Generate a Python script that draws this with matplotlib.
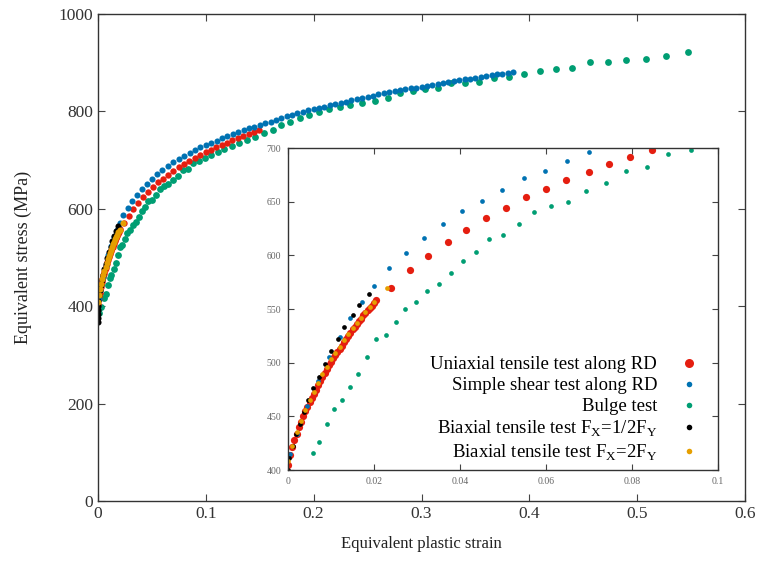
import numpy as np
import matplotlib
matplotlib.use('Agg')
import matplotlib.pyplot as plt

plt.rcParams['font.family'] = ['Liberation Serif', 'DejaVu Serif']
plt.rcParams['mathtext.fontset'] = 'custom'
plt.rcParams['mathtext.rm'] = 'Liberation Serif'

# uniaxial tensile test along RD
uni_strain = [0.0000, 0.0005, 0.0010, 0.0015, 0.0020, 0.0025, 0.0030, 0.0035, 0.0040, 0.0045,
              0.0050, 0.0055, 0.0060, 0.0065, 0.0070, 0.0075, 0.0080, 0.0085, 0.0090, 0.0095,
              0.0100, 0.0105, 0.0110, 0.0115, 0.0120, 0.0125, 0.0130, 0.0135, 0.0140, 0.0145,
              0.0150, 0.0155, 0.0160, 0.0165, 0.0170, 0.0175, 0.0180, 0.0185, 0.0190, 0.0195,
              0.0200, 0.0205,
              0.0240, 0.0283, 0.0326, 0.0371, 0.0415, 0.0460, 0.0506, 0.0553, 0.0599, 0.0647,
              0.0699, 0.0747, 0.0796, 0.0847, 0.0897, 0.0947, 0.0997, 0.1047, 0.1097, 0.1147,
              0.1197, 0.1247, 0.1297, 0.1347, 0.1397, 0.1447, 0.1497]
uni_stress = [405, 414, 421, 428, 434, 440, 445, 450, 455, 459,
              463, 467, 471, 475, 479, 483, 487, 490, 494, 498,
              501, 504, 507, 510, 513, 516, 519, 522, 525, 528,
              531, 533, 536, 539, 541, 544, 546, 549, 551, 553,
              556, 558,
              570, 586, 599, 612, 624, 635, 644, 654, 662, 670,
              678, 685, 692, 698, 705, 711, 716, 721, 726, 731,
              736, 741, 745, 750, 754, 758, 762]

# simple shear test along RD
shear_strain = [0.0005, 0.0020, 0.0045, 0.0070, 0.0095, 0.0120, 0.0145, 0.0172, 0.0201, 0.0235,
                0.0275, 0.0317, 0.0360, 0.0405, 0.0451, 0.0498, 0.0548, 0.0598, 0.0648, 0.0699,
                0.075, 0.080, 0.085, 0.090, 0.095, 0.100, 0.105, 0.110, 0.115, 0.120,
                0.125, 0.130, 0.135, 0.140, 0.145, 0.150, 0.155, 0.160, 0.165, 0.170,
                0.175, 0.180, 0.185, 0.190, 0.195, 0.200, 0.205, 0.210, 0.215, 0.220,
                0.225, 0.230, 0.235, 0.240, 0.245, 0.250, 0.255, 0.260, 0.265, 0.270,
                0.275, 0.280, 0.285, 0.290, 0.295, 0.300, 0.305, 0.310, 0.315, 0.320,
                0.325, 0.330, 0.335, 0.340, 0.345, 0.350, 0.355, 0.360, 0.365, 0.370,
                0.375, 0.380, 0.385]
shear_stress = [415, 434, 460, 483, 505, 524, 542, 557, 571, 588,
                602, 616, 629, 641, 651, 661, 672, 679, 688, 696,
                703, 709, 715, 721, 726, 731, 736, 740, 745, 749,
                753, 757, 761, 765, 768, 772, 776, 779, 783, 786,
                790, 793, 796, 799, 802, 805, 807, 810, 813, 815,
                818, 820, 823, 825, 828, 830, 832, 835, 837, 839,
                841, 843, 845, 847, 849, 851, 853, 855, 857, 859,
                861, 862, 864, 866, 867, 869, 871, 872, 874, 876,
                877, 879, 880]

# bulge test
bulge_strain = [0.0010, 0.0030, 0.0057, 0.0073, 0.0090, 0.0108, 0.0125, 0.0144, 0.0163, 0.0184,
                0.0205, 0.0227, 0.0250, 0.0273, 0.0297, 0.0323, 0.0350, 0.0378, 0.0406, 0.0437,
                0.0467, 0.0501, 0.0537, 0.0573, 0.0612, 0.0652, 0.0693, 0.0739, 0.0786, 0.0835,
                0.0884, 0.0937, 0.099, 0.105, 0.111, 0.117, 0.124, 0.131, 0.138, 0.146,
                0.154, 0.162, 0.170, 0.178, 0.187, 0.196, 0.205, 0.214, 0.224, 0.234,
                0.245, 0.257, 0.269, 0.280, 0.292, 0.303, 0.315, 0.327, 0.340, 0.353,
                0.367, 0.381, 0.395, 0.410, 0.425, 0.440, 0.456, 0.473, 0.490, 0.508,
                0.527, 0.547]
bulge_stress = [385, 398, 416, 426, 443, 457, 465, 477, 489, 505,
                522, 526, 538, 550, 557, 567, 573, 584, 595, 603,
                615, 619, 629, 640, 646, 650, 660, 667, 679, 682,
                694, 698, 704, 710, 716, 722, 728, 735, 741, 748,
                755, 762, 772, 779, 786, 792, 798, 804, 809, 814,
                818, 822, 827, 837, 842, 846, 849, 859, 858, 861,
                868, 871, 876, 883, 887, 889, 901, 901, 905, 908,
                914, 922]

# biaxial tensile test Fx = 1/2 Fy
bx_half_strain = [0.0, 0.0, 0.0, 0.0, 0.0, 0.0003, 0.0011, 0.0019, 0.0028, 0.0036,
                  0.0047, 0.0059, 0.0072, 0.0086, 0.0099, 0.0117, 0.0131, 0.0150, 0.0165, 0.0188]
bx_half_stress = [368, 376, 384, 392, 400, 411, 422, 434, 443, 454,
                  465, 476, 487, 499, 511, 522, 533, 544, 554, 564]

# biaxial tensile test Fx = 2 Fy
bx_two_strain = [0.000, 0.001, 0.002, 0.003, 0.004, 0.005, 0.006, 0.007, 0.008, 0.009,
                 0.010, 0.011, 0.012, 0.013, 0.014, 0.015, 0.016, 0.017, 0.018, 0.019,
                 0.020, 0.023]
bx_two_stress = [408, 422, 435, 446, 456, 465, 473, 481, 489, 496,
                 503, 509, 515, 521, 527, 532, 537, 542, 547, 552,
                 557, 570]

labels = ['Uniaxial tensile test along RD',
          'Simple shear test along RD',
          'Bulge test',
          r'Biaxial tensile test F$_\mathregular{X}$=1/2F$_\mathregular{Y}$',
          r'Biaxial tensile test F$_\mathregular{X}$=2F$_\mathregular{Y}$']
colors = ['#e51e10', '#0072b2', '#009e73', '#000000', '#e69f00']

fig = plt.figure(figsize=(7.62, 5.68), dpi=100)
ax = fig.add_axes([0.1286, 0.118, 0.8491, 0.8574])


def draw(a, sizes):
    # green first so blue sits on top like in the original
    a.plot(bulge_strain, bulge_stress, 'o', color=colors[2], ms=sizes[2], mew=0)
    a.plot(uni_strain, uni_stress, 'o', color=colors[0], ms=sizes[0], mew=0)
    a.plot(shear_strain, shear_stress, 'o', color=colors[1], ms=sizes[1], mew=0)
    a.plot(bx_half_strain, bx_half_stress, 'o', color=colors[3], ms=sizes[3], mew=0)
    a.plot(bx_two_strain, bx_two_stress, 'o', color=colors[4], ms=sizes[4], mew=0)


def style(a, size, col='#333333'):
    a.tick_params(direction='in', top=True, right=True, labelsize=size,
                  colors='#444444', labelcolor=col, length=5)
    for s in a.spines.values():
        s.set_color('#333333')
        s.set_linewidth(1.0)


draw(ax, [4.6, 4.4, 4.9, 4.4, 4.4])
ax.set_xlim(0, 0.6)
ax.set_ylim(0, 1000)
ax.set_xticks(np.arange(0, 0.61, 0.1))
ax.set_xticklabels(['0', '0.1', '0.2', '0.3', '0.4', '0.5', '0.6'])
ax.set_yticks(np.arange(0, 1001, 200))
style(ax, 12.5)
ax.set_xlabel('Equivalent plastic strain', fontsize=12, color='#222222', labelpad=10)
ax.set_ylabel('Equivalent stress (MPa)', fontsize=13, color='#222222', labelpad=19)

ins = fig.add_axes([0.378, 0.1725, 0.5643, 0.5669])
ins.set_facecolor('white')
draw(ins, [5.2, 3.4, 3.4, 3.4, 3.4])
ins.set_xlim(0, 0.1)
ins.set_ylim(400, 700)
ins.set_xticks(np.arange(0, 0.101, 0.02))
ins.set_xticklabels(['0', '0.02', '0.04', '0.06', '0.08', '0.1'])
ins.set_yticks(np.arange(400, 701, 50))
style(ins, 7, '#666666')
ins.tick_params(length=4, pad=5)

handles = []
for c, s in zip(colors, [6.5, 4, 4, 4, 4]):
    h, = ins.plot([], [], 'o', color=c, ms=s, mew=0)
    handles.append(h)
ins.legend(handles, labels, loc='lower right', markerfirst=False, frameon=False,
           fontsize=13.5, handlelength=1.0, handletextpad=1.2, labelspacing=0.2,
           borderaxespad=0.3, bbox_to_anchor=(0.985, -0.02))

fig.savefig('out.png', dpi=100)
